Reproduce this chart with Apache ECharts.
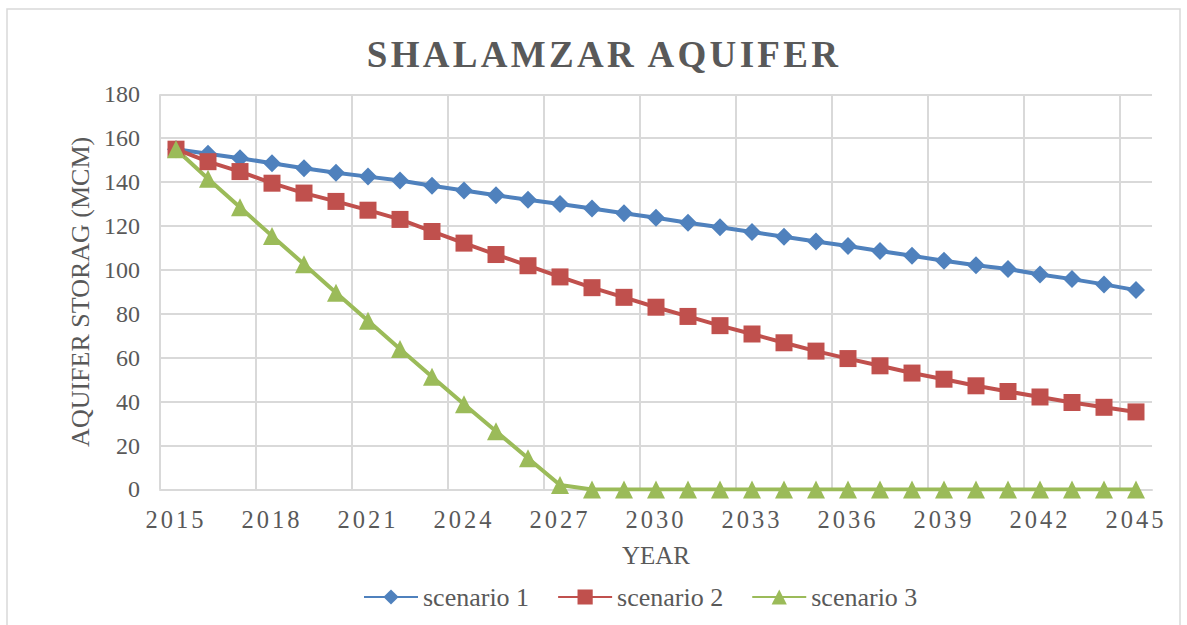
<!DOCTYPE html>
<html>
<head>
<meta charset="utf-8">
<script src="https://cdn.jsdelivr.net/npm/echarts@6/dist/echarts.min.js"></script>
<style>
  html, body { margin: 0; padding: 0; background: #fff; }
  #chart { width: 1187px; height: 625px; }
  #chart text { font-family: 'Liberation Serif', serif !important; }
</style>
</head>
<body>
<div id="chart"></div>
<script>
// years on the x axis
const years = ['2015', '2016', '2017', '2018', '2019', '2020', '2021', '2022', '2023', '2024',
  '2025', '2026', '2027', '2028', '2029', '2030', '2031', '2032', '2033', '2034',
  '2035', '2036', '2037', '2038', '2039', '2040', '2041', '2042', '2043', '2044', '2045'];

// aquifer storage (MCM) per scenario
const scenario1 = [155, 152.9, 150.9, 148.6, 146.3, 144.3, 142.5, 140.7, 138.3, 136.2,
  134, 132, 130, 128, 125.8, 123.8, 121.5, 119.4, 117.3, 115.1,
  112.9, 110.9, 108.6, 106.4, 104.2, 102.1, 100.4, 97.9, 95.8, 93.4, 90.8];
const scenario2 = [155, 149.3, 144.8, 139.5, 135, 131.2, 127.2, 123, 117.5, 112.2,
  107, 101.9, 96.8, 91.9, 87.5, 83, 78.8, 74.6, 70.8, 66.8,
  63, 59.6, 56.3, 53, 50.2, 47.2, 44.6, 42.1, 39.6, 37.4, 35.3];
const scenario3 = [155, 141.5, 128.5, 115.5, 102.6, 89.6, 76.8, 64, 51.3, 38.8,
  26.5, 14.2, 2, 0, 0, 0, 0, 0, 0, 0,
  0, 0, 0, 0, 0, 0, 0, 0, 0, 0, 0];

const yTicks = { min: 0, max: 180, step: 20 };

const font = 'Liberation Serif';
const textColor = '#595959';
const gridColor = '#d9d9d9';

// category edges, only used for the vertical grid lines (every 3 years, no line at the right end)
const edges = years.concat(['']).map(function (_, i) { return String(i); });

const chart = echarts.init(document.getElementById('chart'), null, { renderer: 'svg' });

function lineSeries(name, data, color, symbol, size) {
  return {
    name: name,
    type: 'line',
    data: data,
    symbol: symbol,
    symbolSize: size,
    showSymbol: true,
    lineStyle: { color: color, width: 4 },
    itemStyle: { color: color },
    emphasis: { disabled: true }
  };
}

const option = {
  animation: false,
  backgroundColor: '#fff',
  title: {
    text: 'SHALAMZAR AQUIFER',
    left: 599,
    textAlign: 'center',
    top: 31,
    textStyle: { fontFamily: font, fontSize: 37, fontWeight: 'bold', color: textColor }
  },
  graphic: [{
    type: 'rect',
    shape: { x: 7, y: 9, width: 1173, height: 640 },
    style: { fill: 'none', stroke: gridColor, lineWidth: 1.5 },
    silent: true
  }],
  legend: {
    left: 358,
    top: 579,
    itemWidth: 54,
    itemHeight: 19,
    itemGap: 28,
    textStyle: { fontFamily: font, fontSize: 26, color: textColor },
    data: ['scenario 1', 'scenario 2', 'scenario 3']
  },
  grid: { left: 160, right: 35, top: 94.3, bottom: 135.6 },
  xAxis: [{
    type: 'category',
    data: years,
    boundaryGap: true,
    name: 'YEAR',
    nameLocation: 'middle',
    nameGap: 54,
    nameTextStyle: { fontFamily: font, fontSize: 25, color: textColor },
    axisLine: { lineStyle: { color: gridColor, width: 2 } },
    axisTick: { show: false },
    axisLabel: { interval: 2, margin: 18, fontFamily: font, fontSize: 24.5, color: textColor },
    splitLine: { show: false }
  }, {
    type: 'category',
    data: edges,
    boundaryGap: false,
    position: 'top',
    axisLine: { show: false },
    axisTick: { show: false },
    axisLabel: { show: false },
    splitLine: { show: true, interval: 2, lineStyle: { color: gridColor, width: 2 } }
  }],
  yAxis: {
    type: 'value',
    min: yTicks.min,
    max: yTicks.max,
    interval: yTicks.step,
    name: 'AQUIFER STORAG (MCM)',
    nameLocation: 'middle',
    nameGap: 63,
    nameTextStyle: { fontFamily: font, fontSize: 26, color: textColor },
    axisLine: { show: false },
    axisTick: { show: false },
    axisLabel: { margin: 20, fontFamily: font, fontSize: 24, color: textColor },
    splitLine: { lineStyle: { color: gridColor, width: 2 } }
  },
  series: [
    lineSeries('scenario 1', scenario1, '#4F81BD', 'diamond', 18),
    lineSeries('scenario 2', scenario2, '#C0504D', 'rect', 17),
    lineSeries('scenario 3', scenario3, '#9BBB59', 'triangle', 18)
  ]
};

chart.setOption(option);

// letter spacing for title and year labels (svg text)
function spaceText() {
  document.querySelectorAll('#chart text').forEach(function (el) {
    const t = el.textContent;
    if (t === 'SHALAMZAR AQUIFER') el.style.letterSpacing = '3.3px';
    else if (/^\d{4}$/.test(t)) el.style.letterSpacing = '3px';
  });
}
spaceText();
chart.on('finished', spaceText);
</script>
</body>
</html>
